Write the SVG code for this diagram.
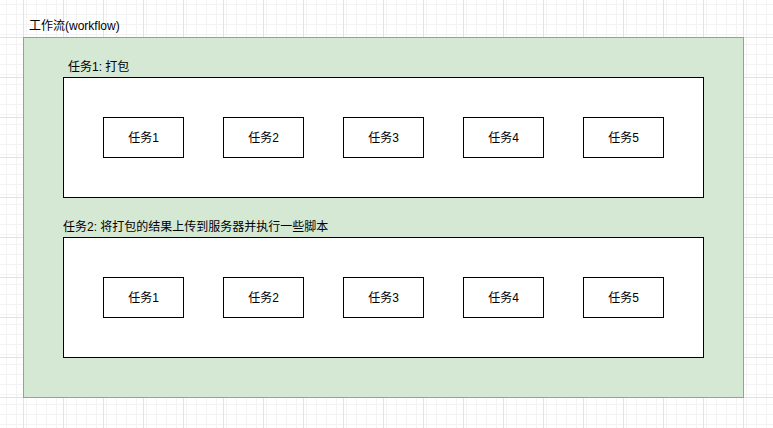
<svg xmlns="http://www.w3.org/2000/svg" width="773" height="428" viewBox="0 0 773 428">
<defs>
<pattern id="minor" x="3" y="7" width="10" height="10" patternUnits="userSpaceOnUse">
<path d="M0 0.5H10M0.5 0V10" fill="none" stroke="#f3f3f3" stroke-width="1"/>
</pattern>
<pattern id="major" x="23" y="37" width="40" height="40" patternUnits="userSpaceOnUse">
<rect width="40" height="40" fill="url(#minor)"/>
<path d="M0 0.5H40M0.5 0V40" fill="none" stroke="#e2e2e2" stroke-width="1"/>
</pattern>
<style>
.t{font-family:"Liberation Sans","Noto Sans CJK SC",sans-serif;font-size:12px;fill:#000}
.c{text-anchor:middle}
.box{fill:#fff;stroke:#000;stroke-width:1}
</style>
</defs>
<rect width="773" height="428" fill="#fff"/>
<rect width="773" height="428" fill="url(#major)"/>
<g id="workflow">
<rect x="23.5" y="37.5" width="720" height="360" fill="#d5e8d4" stroke="#82b366"/>
<text class="t" x="29" y="30">工作流(workflow)</text>
</g>
<g id="stage1">
<rect class="box" x="63.5" y="77.5" width="640" height="120"/>
<text class="t" x="68" y="71">任务1: 打包</text>
</g>
<g id="stage2">
<rect class="box" x="63.5" y="237.5" width="640" height="120"/>
<text class="t" x="63" y="231">任务2: 将打包的结果上传到服务器并执行一些脚本</text>
</g>
<g id="s1t1"><rect class="box" x="103.5" y="117.5" width="80" height="40"/><text class="t c" x="143.5" y="141.5">任务1</text></g>
<g id="s1t2"><rect class="box" x="223.5" y="117.5" width="80" height="40"/><text class="t c" x="263.5" y="141.5">任务2</text></g>
<g id="s1t3"><rect class="box" x="343.5" y="117.5" width="80" height="40"/><text class="t c" x="383.5" y="141.5">任务3</text></g>
<g id="s1t4"><rect class="box" x="463.5" y="117.5" width="80" height="40"/><text class="t c" x="503.5" y="141.5">任务4</text></g>
<g id="s1t5"><rect class="box" x="583.5" y="117.5" width="80" height="40"/><text class="t c" x="623.5" y="141.5">任务5</text></g>
<g id="s2t1"><rect class="box" x="103.5" y="277.5" width="80" height="40"/><text class="t c" x="143.5" y="301.5">任务1</text></g>
<g id="s2t2"><rect class="box" x="223.5" y="277.5" width="80" height="40"/><text class="t c" x="263.5" y="301.5">任务2</text></g>
<g id="s2t3"><rect class="box" x="343.5" y="277.5" width="80" height="40"/><text class="t c" x="383.5" y="301.5">任务3</text></g>
<g id="s2t4"><rect class="box" x="463.5" y="277.5" width="80" height="40"/><text class="t c" x="503.5" y="301.5">任务4</text></g>
<g id="s2t5"><rect class="box" x="583.5" y="277.5" width="80" height="40"/><text class="t c" x="623.5" y="301.5">任务5</text></g>
<g id="connectors"></g>
</svg>
